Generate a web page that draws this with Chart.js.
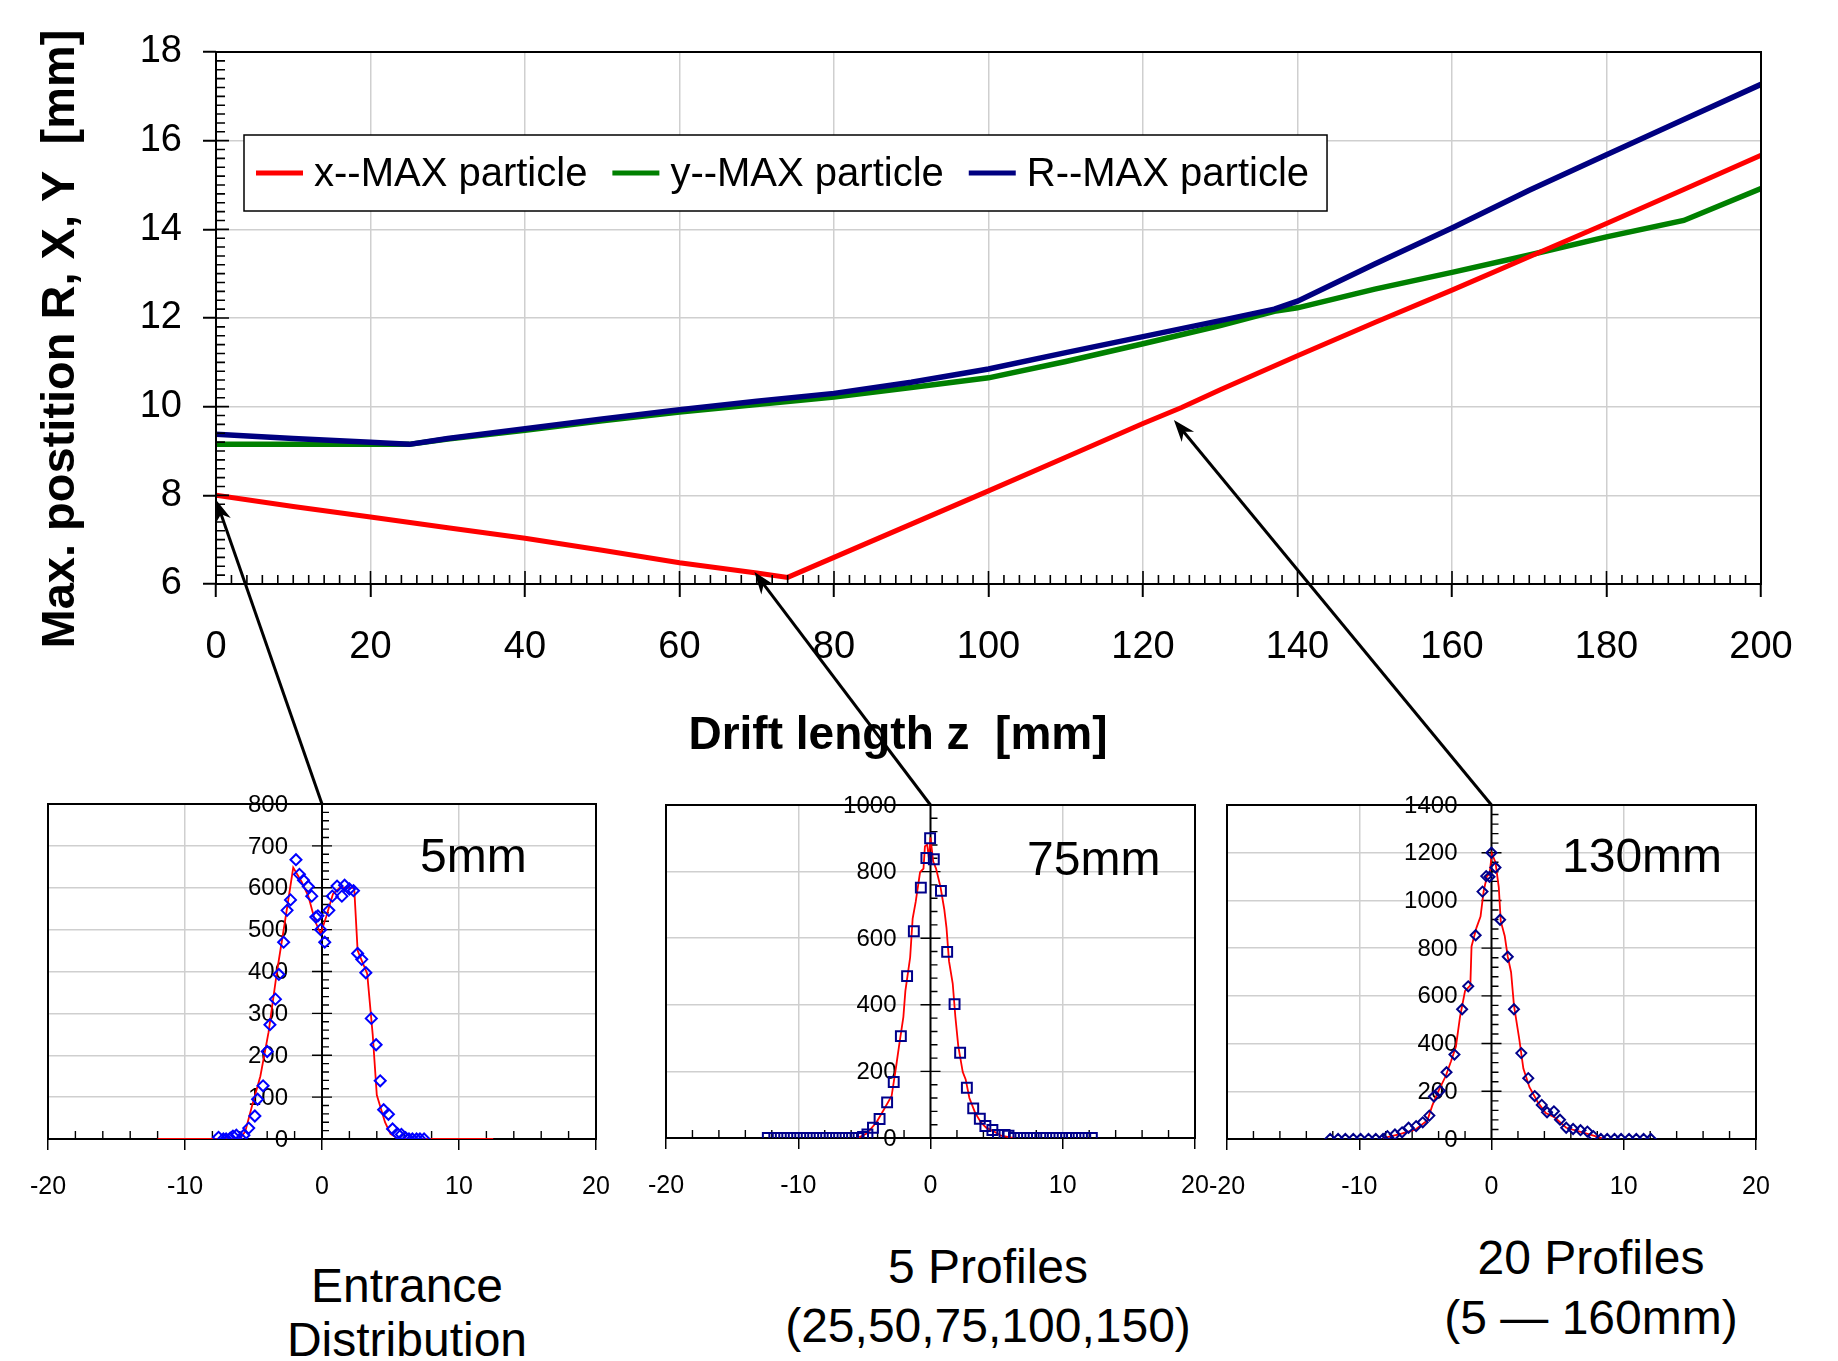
<!DOCTYPE html>
<html><head><meta charset="utf-8">
<script src="https://cdn.jsdelivr.net/npm/chart.js@4.4.1/dist/chart.umd.min.js"></script>
<style>
html,body{margin:0;padding:0;background:#fff;width:1838px;height:1361px;overflow:hidden;}
canvas{position:absolute;}
.t{position:absolute;font-family:"Liberation Sans",Arial,sans-serif;color:#000;white-space:nowrap;line-height:1;font-size:48px;}
</style></head><body>
<canvas id="main" style="left:0px;top:0px" width="1838" height="780"></canvas>
<canvas id="in1"></canvas>
<canvas id="in2"></canvas>
<canvas id="in3"></canvas>
<canvas id="overlay" style="left:0px;top:0px;z-index:10" width="1838" height="1361"></canvas>
<script>
// ---------- MAIN CHART DATA ----------
const zRed    = [0, 10, 20, 30, 40, 50, 60, 70, 74, 80, 90, 100, 110, 120, 125, 130, 140, 150, 160, 170, 180, 190, 200];
const xMaxVal = [8.00, 7.75, 7.51, 7.27, 7.03, 6.76, 6.48, 6.25, 6.15, 6.60, 7.35, 8.10, 8.86, 9.62, 9.98, 10.38, 11.15, 11.90, 12.63, 13.38, 14.13, 14.90, 15.67];
const zGreen  = [0, 10, 20, 25, 30, 40, 50, 60, 70, 80, 90, 100, 110, 120, 130, 137, 140, 150, 160, 170, 180, 190, 200];
const yMaxVal = [9.15, 9.15, 9.15, 9.15, 9.27, 9.47, 9.68, 9.88, 10.05, 10.22, 10.43, 10.65, 11.02, 11.42, 11.83, 12.15, 12.23, 12.65, 13.03, 13.42, 13.83, 14.20, 14.92];
const zBlue   = [0, 10, 20, 25, 30, 40, 50, 60, 70, 80, 90, 100, 110, 120, 130, 137, 140, 150, 160, 170, 180, 190, 200];
const rMaxVal = [9.38, 9.28, 9.20, 9.15, 9.28, 9.50, 9.72, 9.93, 10.12, 10.30, 10.55, 10.85, 11.22, 11.58, 11.94, 12.20, 12.38, 13.22, 14.03, 14.88, 15.68, 16.48, 17.27];
const seriesLabels = ['x--MAX particle', 'y--MAX particle', 'R--MAX particle'];
const seriesColors = ['#ff0000', '#008000', '#000080'];
const mainXTicks = {min: 0, max: 200, step: 20, minor: 2};
const mainYTicks = {min: 6, max: 18, step: 2, minor: 0.2};
const mainXTitle = 'Drift length z  [mm]';
const mainYTitle = 'Max. postition R, X, Y  [mm]';
const arrowZ = [0, 69.7, 124];
const arrowV = [7.9, 6.27, 9.7];

// ---------- INSET DATA ----------
const in1MarkX = [-7.55,-7.2,-7.0,-6.7,-6.5,-6.25,-5.9,-5.7,-5.35,-4.9,-4.7,-4.3,-4.0,-3.8,-3.4,-3.15,-2.8,-2.55,-2.3,-1.9,-1.65,-1.35,-1.0,-0.75,-0.45,-0.3,-0.1,0.2,0.5,0.75,1.1,1.45,1.65,2.0,2.3,2.6,2.9,3.2,3.6,3.95,4.25,4.5,4.85,5.15,5.5,5.8,6.1,6.35,6.6,6.9,7.15,7.45];
const in1MarkY = [4,0,0,2,7,9,0,9,26,55,95,127,209,273,334,393,470,546,571,667,632,618,603,580,530,533,500,470,546,580,604,580,606,597,593,443,429,397,288,225,139,70,59,24,13,11,3,0,0,0,0,0];
const in1LineX = [-12,-6.0,-5.6,-5.1,-4.5,-3.9,-3.3,-2.7,-2.1,-1.5,-1.0,-0.5,-0.1,0.3,0.8,1.3,2.35,2.6,3.3,3.7,4.0,4.6,5.0,5.6,12.5];
const in1LineY = [0,0,18,80,150,255,397,520,648,615,580,520,490,530,585,600,600,450,395,250,105,40,12,0,0];

const in2MarkX = [-12.3,-11.81,-11.32,-10.83,-10.34,-9.85,-9.36,-8.87,-8.38,-7.89,-7.4,-6.91,-6.42,-5.93,-5.44,-5.1,-4.77,-4.35,-3.85,-3.28,-2.78,-2.24,-1.77,-1.26,-0.73,-0.31,-0.03,0.25,0.79,1.26,1.82,2.24,2.75,3.23,3.73,4.15,4.68,5.1,5.6,5.9,6.31,6.8,7.3,7.8,8.3,8.75,9.25,9.75,10.25,10.7,11.2,11.7,12.2];
const in2MarkY = [0,0,0,0,0,0,0,0,0,0,0,0,0,0,0,3,11,31,57,107,168,306,486,621,752,841,900,837,742,559,402,256,151,89,58,36,24,9,9,7,0,0,0,0,0,0,0,0,0,0,0,0,0];
const in2LineX = [-5.5,-4.8,-4.07,-3.5,-2.94,-2.58,-2.38,-2.05,-1.9,-1.54,-1.35,-1.12,-0.79,-0.53,-0.42,-0.25,-0.11,0,0.2,0.42,0.76,1.04,1.21,1.4,1.68,1.88,2.1,2.44,2.66,2.94,3.37,3.79,4.21,4.77,5.33,6.03,6.45];
const in2LineY = [0,14,48,87,126,220,276,364,442,542,659,709,798,809,876,881,837,903,831,809,753,687,631,531,464,364,276,198,176,120,76,48,31,20,7,2,0];

const in3MarkX = [-12.2,-11.6,-11.05,-10.45,-9.9,-9.3,-8.75,-8.2,-7.87,-7.3,-6.76,-6.27,-5.7,-5.2,-4.7,-4.35,-3.9,-3.4,-2.8,-2.22,-1.76,-1.2,-0.68,-0.4,-0.15,0,0.3,0.65,1.23,1.7,2.25,2.78,3.27,3.8,4.2,4.72,5.18,5.65,6.17,6.73,7.25,7.7,8.27,8.75,9.3,9.8,10.4,10.95,11.5,12.05];
const in3MarkY = [0,0,0,0,0,0,0,0,12,19,28,47,54,70,98,178,202,280,354,544,640,854,1037,1102,1099,1200,1138,919,764,544,360,255,180,143,112,116,81,47,42,37,31,12,0,0,0,0,0,0,0,0];
const in3LineX = [-8.2,-7.87,-7.0,-5.77,-4.85,-4.48,-4.07,-3.46,-3.06,-2.69,-2.38,-2.0,-1.6,-1.51,-1.14,-0.83,-0.59,-0.34,-0.15,0.03,0.3,0.55,0.7,1.0,1.23,1.48,1.7,2.1,2.41,2.87,3.49,4.1,4.72,5.65,7.2,8.1,8.5];
const in3LineY = [0,8,19,39,78,140,194,264,326,388,512,621,644,807,885,932,1040,1102,1110,1196,1160,1055,913,851,764,699,559,419,295,217,155,109,93,47,23,8,0];

const insetYMax   = [800, 1000, 1400];
const insetYStep  = [100, 200, 200];
const insetYMinor = [20, 40, 40];
const insetXTicks = {min: -20, max: 20, step: 10, minor: 2};
const insetLabels = ['5mm', '75mm', '130mm'];
const captions = [['Entrance', 'Distribution'], ['5 Profiles', '(25,50,75,100,150)'], ['20 Profiles', '(5 \u2014 160mm)']];

// ---------- HELPERS ----------
const FONT = "'Liberation Sans', Arial, sans-serif";
Chart.defaults.font.family = FONT;
Chart.defaults.color = '#000';
const pts = (xs, ys) => xs.map((v, i) => ({x: v, y: ys[i]}));
const isMult = (v, s) => Math.abs(v / s - Math.round(v / s)) < 1e-6;

// ---------- MAIN CHART ----------
const mainDeco = {
  id: 'mainDeco',
  afterDatasetsDraw(chart) {
    const {ctx, chartArea: a, scales: {x, y}} = chart;
    ctx.save();
    ctx.strokeStyle = '#000';
    ctx.lineWidth = 2;
    ctx.strokeRect(a.left, a.top, a.right - a.left, a.bottom - a.top);
    ctx.lineWidth = 1.6;
    ctx.beginPath();
    for (let i = 0; ; i++) {
      const v = mainXTicks.min + i * mainXTicks.minor;
      if (v > mainXTicks.max + 1e-9) break;
      const px = x.getPixelForValue(v);
      const len = isMult(v, mainXTicks.step) ? 13 : 9;
      ctx.moveTo(px, a.bottom); ctx.lineTo(px, a.bottom - len);
    }
    for (let i = 0; ; i++) {
      const v = mainYTicks.min + i * mainYTicks.minor;
      if (v > mainYTicks.max + 1e-9) break;
      const py = y.getPixelForValue(v);
      const len = isMult(v - mainYTicks.min, mainYTicks.step) ? 13 : 9;
      ctx.moveTo(a.left, py); ctx.lineTo(a.left + len, py);
    }
    ctx.stroke();

    // legend box
    const bx = a.left + 28, by = a.top + 83, bh = 76;
    ctx.font = '40px ' + FONT;
    let cx = bx + 12;
    const items = [];
    chart.data.datasets.forEach((ds) => {
      const w = ctx.measureText(ds.label).width;
      items.push({x: cx, w, label: ds.label, color: ds.borderColor});
      cx += 47 + 11 + w + 25;
    });
    const bw = cx - 25 + 18 - bx;
    ctx.fillStyle = '#fff';
    ctx.fillRect(bx, by, bw, bh);
    ctx.lineWidth = 1.5;
    ctx.strokeStyle = '#000';
    ctx.strokeRect(bx, by, bw, bh);
    const cy = by + bh / 2;
    items.forEach(it => {
      ctx.strokeStyle = it.color;
      ctx.lineWidth = 5;
      ctx.beginPath(); ctx.moveTo(it.x, cy); ctx.lineTo(it.x + 47, cy); ctx.stroke();
      ctx.fillStyle = '#000';
      ctx.textAlign = 'left';
      ctx.textBaseline = 'middle';
      ctx.fillText(it.label, it.x + 58, cy + 2);
    });

    // axis titles
    ctx.fillStyle = '#000';
    ctx.textAlign = 'center';
    ctx.textBaseline = 'middle';
    ctx.font = 'bold 46px ' + FONT;
    ctx.fillText(mainXTitle, 898, 736);
    ctx.save();
    ctx.font = 'bold 47px ' + FONT;
    ctx.translate(61, 339);
    ctx.rotate(-Math.PI / 2);
    ctx.fillText(mainYTitle, 0, 0);
    ctx.restore();
    ctx.restore();
  }
};

const mainChart = new Chart(document.getElementById('main'), {
  type: 'line',
  data: {
    datasets: [
      {label: seriesLabels[0], data: pts(zRed, xMaxVal), borderColor: seriesColors[0], borderWidth: 5, pointRadius: 0, tension: 0, order: 0},
      {label: seriesLabels[1], data: pts(zGreen, yMaxVal), borderColor: seriesColors[1], borderWidth: 5.5, pointRadius: 0, tension: 0, order: 2},
      {label: seriesLabels[2], data: pts(zBlue, rMaxVal), borderColor: seriesColors[2], borderWidth: 5.5, pointRadius: 0, tension: 0, order: 1}
    ]
  },
  options: {
    responsive: false, animation: false, devicePixelRatio: 1,
    layout: {padding: {top: 52, right: 77, left: 0, bottom: 0}},
    plugins: {legend: {display: false}, tooltip: {enabled: false}},
    scales: {
      x: {
        type: 'linear', min: mainXTicks.min, max: mainXTicks.max,
        ticks: {stepSize: mainXTicks.step, font: {size: 38}, color: '#000', padding: 28, maxRotation: 0, autoSkip: false},
        grid: {color: c => (c.tick.value === mainXTicks.min || c.tick.value === mainXTicks.max) ? 'rgba(0,0,0,0)' : '#cfcfcf', lineWidth: 1.5, tickLength: 13, tickColor: '#000', tickWidth: 2},
        border: {display: false},
        afterFit: s => { s.height = 196; }
      },
      y: {
        type: 'linear', min: mainYTicks.min, max: mainYTicks.max,
        ticks: {stepSize: mainYTicks.step, font: {size: 38}, color: '#000', padding: 21},
        grid: {color: c => (c.tick.value === mainYTicks.min || c.tick.value === mainYTicks.max) ? 'rgba(0,0,0,0)' : '#cfcfcf', lineWidth: 1.5, tickLength: 13, tickColor: '#000', tickWidth: 2},
        border: {display: false},
        afterFit: s => { s.width = 216; }
      }
    }
  },
  plugins: [mainDeco]
});

// ---------- INSETS ----------
function insetDeco(yMinor, yStep) {
  return {
    id: 'insetDeco',
    beforeDatasetsDraw(chart) {
      const {ctx, chartArea: a, scales: {x, y}} = chart;
      const x0 = x.getPixelForValue(0);
      ctx.save();
      ctx.strokeStyle = '#000';
      ctx.lineWidth = 2;
      ctx.strokeRect(a.left, a.top, a.right - a.left, a.bottom - a.top);
      ctx.beginPath(); ctx.moveTo(x0, a.top); ctx.lineTo(x0, a.bottom); ctx.stroke();
      ctx.lineWidth = 1.4;
      ctx.beginPath();
      for (let i = 0; ; i++) {
        const v = insetXTicks.min + i * insetXTicks.minor;
        if (v > insetXTicks.max + 1e-9) break;
        if (isMult(v, insetXTicks.step)) continue;
        const px = x.getPixelForValue(v);
        ctx.moveTo(px, a.bottom); ctx.lineTo(px, a.bottom - 8);
      }
      for (let i = 0; ; i++) {
        const v = i * yMinor;
        if (v > y.max + 1e-9) break;
        const py = y.getPixelForValue(v);
        if (isMult(v, yStep)) { ctx.moveTo(x0 - 10, py); ctx.lineTo(x0 + 10, py); }
        else { ctx.moveTo(x0, py); ctx.lineTo(x0 + 7, py); }
      }
      ctx.stroke();
      ctx.fillStyle = '#000';
      ctx.font = '24px ' + FONT;
      ctx.textAlign = 'right';
      ctx.textBaseline = 'middle';
      y.ticks.forEach(t => {
        ctx.fillText(String(t.value), x0 - 34, y.getPixelForValue(t.value) + 1);
      });
      ctx.restore();
    }
  };
}

function makeInset(id, geom, markX, markY, lineX, lineY, k, markerStyle, markerColor, markerRadius) {
  const cv = document.getElementById(id);
  const top0 = 770;
  cv.width = geom.R - geom.L + 90; cv.height = 460;
  cv.style.left = (geom.L - 45) + 'px'; cv.style.top = top0 + 'px';
  const plotH = geom.B - geom.T;
  const yMax = insetYMax[k];
  return new Chart(cv, {
    type: 'line',
    data: {datasets: [
      {data: pts(markX, markY), showLine: false, pointStyle: markerStyle, pointRadius: markerRadius, pointBorderColor: markerColor, pointBackgroundColor: 'rgba(0,0,0,0)', pointBorderWidth: 2, order: 0},
      {data: pts(lineX, lineY), borderColor: '#ff0000', borderWidth: 1.8, pointRadius: 0, tension: 0, order: 1}
    ]},
    options: {
      responsive: false, animation: false, devicePixelRatio: 1,
      layout: {padding: {left: 45, right: 45, top: geom.T - top0, bottom: 0}},
      plugins: {legend: {display: false}, tooltip: {enabled: false}},
      scales: {
        x: {
          type: 'linear', min: insetXTicks.min, max: insetXTicks.max,
          ticks: {stepSize: insetXTicks.step, font: {size: 25}, color: '#000', padding: 22, maxRotation: 0, autoSkip: false},
          grid: {color: c => Math.abs(c.tick.value) === 10 ? '#cfcfcf' : 'rgba(0,0,0,0)', lineWidth: 1.5, tickLength: 11, tickColor: '#000', tickWidth: 1.5},
          border: {display: false},
          afterFit: s => { s.height = 460 - (geom.T - top0) - plotH; }
        },
        y: {
          type: 'linear', position: {x: 0}, min: 0, max: yMax,
          ticks: {stepSize: insetYStep[k], display: false},
          grid: {color: c => (c.tick.value > 0 && c.tick.value < yMax) ? '#cfcfcf' : 'rgba(0,0,0,0)', lineWidth: 1.5, drawTicks: false},
          border: {display: false}
        }
      }
    },
    plugins: [insetDeco(insetYMinor[k], insetYStep[k])]
  });
}

const inset1 = makeInset('in1', {L: 48, R: 596, T: 804, B: 1139}, in1MarkX, in1MarkY, in1LineX, in1LineY, 0, 'rectRot', '#0000ff', 5.5);
const inset2 = makeInset('in2', {L: 666, R: 1195, T: 805, B: 1138}, in2MarkX, in2MarkY, in2LineX, in2LineY, 1, 'rect', '#00008b', 7);
const inset3 = makeInset('in3', {L: 1227, R: 1756, T: 805, B: 1139}, in3MarkX, in3MarkY, in3LineX, in3LineY, 2, 'rectRot', '#00008b', 5);
const insets = [inset1, inset2, inset3];

// ---------- TEXT LABELS ----------
function addText(txt, x, y, anchor) {
  const d = document.createElement('div');
  d.className = 't';
  d.textContent = txt;
  d.style.left = x + 'px';
  d.style.top = y + 'px';
  d.style.transform = anchor === 'center' ? 'translate(-50%,-50%)' : 'translate(0,-50%)';
  document.body.appendChild(d);
}
const insetLabelPos = [[420, 856], [1027, 859], [1562, 856]];
insetLabels.forEach((t, i) => addText(t, insetLabelPos[i][0], insetLabelPos[i][1], 'left'));
const captionPos = [[407, 1286, 1340], [988, 1267, 1326], [1591, 1258, 1318]];
captions.forEach((c, i) => {
  addText(c[0], captionPos[i][0], captionPos[i][1], 'center');
  addText(c[1], captionPos[i][0], captionPos[i][2], 'center');
});

// ---------- ARROWS ----------
(function drawArrows() {
  const ctx = document.getElementById('overlay').getContext('2d');
  ctx.strokeStyle = '#000'; ctx.fillStyle = '#000'; ctx.lineWidth = 3;
  insets.forEach((ch, i) => {
    const ox = parseFloat(ch.canvas.style.left), oy = parseFloat(ch.canvas.style.top);
    const tx = ox + ch.scales.x.getPixelForValue(0);
    const ty = oy + ch.scales.y.getPixelForValue(ch.scales.y.max);
    const hx = mainChart.scales.x.getPixelForValue(arrowZ[i]);
    const hy = mainChart.scales.y.getPixelForValue(arrowV[i]);
    const ang = Math.atan2(hy - ty, hx - tx);
    const L = 22, W = 8;
    const c = Math.cos(ang), s = Math.sin(ang);
    const bx = hx - L * c, by = hy - L * s;
    ctx.beginPath(); ctx.moveTo(tx, ty); ctx.lineTo(hx - 12 * c, hy - 12 * s); ctx.stroke();
    ctx.beginPath();
    ctx.moveTo(hx, hy);
    ctx.lineTo(bx - W * s, by + W * c);
    ctx.lineTo(hx - 0.7 * L * c, hy - 0.7 * L * s);
    ctx.lineTo(bx + W * s, by - W * c);
    ctx.closePath(); ctx.fill();
  });
})();
</script>
</body></html>
